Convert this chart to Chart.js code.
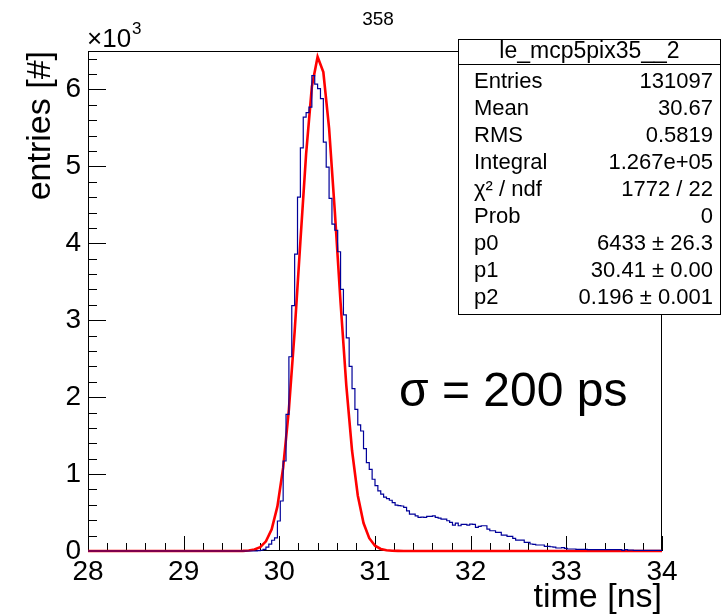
<!DOCTYPE html>
<html>
<head>
<meta charset="utf-8">
<title>358</title>
<script src="https://cdn.jsdelivr.net/npm/chart.js@4.4.1/dist/chart.umd.min.js"></script>
<style>
  html, body { margin: 0; padding: 0; background: #fff; }
  canvas { display: block; }
</style>
</head>
<body>
<canvas id="histChart" width="723" height="616"></canvas>
<script>
// histogram le_mcp5pix35__2 : 200 bins from 28 to 34 ns
const binLow = 28;
const binWidth = 0.03;
const binCounts = [
  0, 0, 0, 0, 0, 0, 0, 0, 0, 0, 0, 0, 0, 0, 0, 0, 0, 0, 0, 0,
  0, 0, 0, 0, 0, 0, 0, 0, 0, 0, 0, 0, 0, 0, 0, 0, 0, 0, 0, 0,
  0, 0, 0, 0, 0, 0, 0, 0, 0, 0, 0, 0, 0, 0, 0, 0, 0, 0, 0, 5,
  10, 20, 50, 90, 140, 170, 390, 650, 1170, 1775,
  2525, 3190, 3860, 4600, 5240, 5640, 5700, 5770, 6180, 6070,
  6010, 5880, 5315, 4990, 4585, 4250, 4170, 3890, 3400, 3070,
  2770, 2400, 2110, 1840, 1640, 1560, 1330, 1150, 1060, 933,
  850, 781, 740, 700, 680, 660, 630, 596, 590, 585,
  566, 522, 479, 479, 457, 436, 440, 436, 449, 449,
  457, 436, 427, 414, 414, 393, 371, 337, 363, 328,
  345, 345, 337, 350, 345, 307, 320, 328, 328, 285,
  263, 263, 242, 242, 207, 207, 190, 190, 164, 142,
  142, 142, 113, 113, 91, 85, 78, 78, 78, 61,
  61, 55, 50, 39, 39, 45, 35, 26, 26, 26,
  22, 22, 22, 20, 18, 17, 17, 17, 17, 17,
  17, 17, 17, 17, 17, 17, 8, 17, 12, 12,
  8, 8, 8, 8, 8, 8, 8, 8, 8, 8
];

// gaussian fit curve as drawn (p0 = 6433, p1 = 30.41, p2 = 0.196)
const fitX = [28, 29.50, 29.56, 29.62, 29.68, 29.74, 29.80, 29.86, 29.92, 29.98,
  30.04, 30.10, 30.16, 30.22, 30.28, 30.34, 30.40, 30.46, 30.52, 30.58,
  30.64, 30.70, 30.76, 30.82, 30.88, 30.94, 31.00, 31.06, 31.12, 31.18,
  31.24, 31.30, 34];
const fitY = [0, 0, 0.5, 2, 6, 19, 51, 126, 283, 580,
  1083, 1842, 2852, 4021, 5163, 6035, 6425, 6227, 5496, 4416,
  3231, 2153, 1306, 721, 363, 166, 69, 26, 9, 3,
  1, 0, 0];

const xTickLabels = [28, 29, 30, 31, 32, 33, 34];
const yTickLabels = [0, 1, 2, 3, 4, 5, 6];

const statsTitle = "le_mcp5pix35__2";
const statsLabels = ["Entries", "Mean", "RMS", "Integral", "\u03c7\u00b2 / ndf", "Prob", "p0", "p1", "p2"];
const statsValues = ["131097", "30.67", "0.5819", "1.267e+05", "1772 / 22", "0",
  "6433 \u00b1 26.3", "30.41 \u00b1 0.00", "0.196 \u00b1 0.001"];

const FONT = "'Liberation Sans', Arial, Helvetica, sans-serif";

// ROOT style frame: box + ticks pointing inward
const frameTicks = {
  id: "frameTicks",
  beforeDatasetsDraw(chart) {
    const { ctx, chartArea: a, scales: { x, y } } = chart;
    ctx.save();
    ctx.strokeStyle = "#000";
    ctx.lineWidth = 1;
    ctx.strokeRect(a.left + 0.5, a.top + 0.5, a.right - a.left - 1, a.bottom - a.top - 1);
    ctx.beginPath();
    for (let k = 0; k <= 30; k++) {
      const v = 28 + k * 0.2;
      const px = Math.round(x.getPixelForValue(v)) + 0.5;
      const len = k % 5 === 0 ? 15 : 8;
      ctx.moveTo(px, a.bottom);
      ctx.lineTo(px, a.bottom - len);
    }
    for (let k = 0; k <= 32; k++) {
      const v = k * 200;
      const py = Math.round(y.getPixelForValue(v)) + 0.5;
      const len = k % 5 === 0 ? 18 : 9;
      ctx.moveTo(a.left, py);
      ctx.lineTo(a.left + len, py);
    }
    ctx.stroke();
    ctx.restore();
  },
  afterDraw(chart) {
    const { ctx } = chart;
    ctx.save();
    ctx.fillStyle = "#000";

    // pad title
    ctx.font = "19px " + FONT;
    ctx.textAlign = "center";
    ctx.textBaseline = "middle";
    ctx.fillText("358", 378, 20);

    // exponent of y axis
    ctx.textAlign = "left";
    ctx.textBaseline = "alphabetic";
    ctx.font = "26px " + FONT;
    ctx.fillText("\u00d710", 87, 47);
    const w = ctx.measureText("\u00d710").width;
    ctx.font = "17px " + FONT;
    ctx.fillText("3", 87 + w + 1, 34);

    // stats box
    const bx = 458.5, by = 39.5, bw = 262, bh = 275;
    ctx.fillStyle = "#fff";
    ctx.fillRect(bx, by, bw, bh);
    ctx.strokeStyle = "#000";
    ctx.lineWidth = 1;
    ctx.strokeRect(bx, by, bw, bh);
    ctx.beginPath();
    ctx.moveTo(bx, 64.5);
    ctx.lineTo(bx + bw, 64.5);
    ctx.stroke();

    ctx.fillStyle = "#000";
    ctx.font = "23px " + FONT;
    ctx.textAlign = "center";
    ctx.textBaseline = "middle";
    ctx.fillText(statsTitle, bx + bw / 2, 52);
    ctx.font = "22px " + FONT;
    statsLabels.forEach((lab, i) => {
      const ty = 82 + i * 27;
      ctx.textAlign = "left";
      ctx.fillText(lab, 474, ty);
      ctx.textAlign = "right";
      ctx.fillText(statsValues[i], 713, ty);
    });

    // annotation
    ctx.font = "48px " + FONT;
    ctx.textAlign = "left";
    ctx.textBaseline = "middle";
    ctx.fillText("\u03c3 = 200 ps", 399, 393);
    ctx.restore();
  }
};

const histData = binCounts.map((c, i) => ({ x: binLow + i * binWidth, y: c }));
histData.push({ x: binLow + binCounts.length * binWidth, y: binCounts[binCounts.length - 1] });
const fitData = fitX.map((v, i) => ({ x: v, y: fitY[i] }));

const ctx = document.getElementById("histChart").getContext("2d");
const chart = new Chart(ctx, {
  type: "line",
  data: {
    datasets: [
      {
        label: "le_mcp5pix35__2",
        data: histData,
        stepped: true,
        borderColor: "#000099",
        borderWidth: 1.2,
        pointRadius: 0,
        fill: false,
        clip: false,
      },
      {
        label: "fit",
        data: fitData,
        borderColor: "#ff0000",
        borderWidth: 2.6,
        pointRadius: 0,
        tension: 0,
        fill: false,
        clip: false,
      },
    ],
  },
  options: {
    responsive: false,
    animation: false,
    devicePixelRatio: 1,
    layout: { padding: { top: 51, right: 61, bottom: 0, left: 0 } },
    plugins: { legend: { display: false }, tooltip: { enabled: false } },
    scales: {
      x: {
        type: "linear",
        min: 28,
        max: 34,
        afterBuildTicks: (s) => { s.ticks = xTickLabels.map((v) => ({ value: v })); },
        afterFit: (s) => { s.height = 65; },
        ticks: {
          color: "#000",
          font: { family: FONT, size: 28 },
          padding: 4,
          maxRotation: 0,
          autoSkip: false,
        },
        grid: { display: false, drawTicks: false },
        border: { display: false },
        title: {
          display: true,
          text: "time [ns]",
          align: "end",
          color: "#000",
          font: { family: FONT, size: 34, lineHeight: 1.1 },
          padding: { top: 0, bottom: 0 },
        },
      },
      y: {
        type: "linear",
        min: 0,
        max: 6500,
        afterBuildTicks: (s) => { s.ticks = yTickLabels.map((v) => ({ value: v * 1000 })); },
        afterFit: (s) => { s.width = 88; },
        ticks: {
          color: "#000",
          font: { family: FONT, size: 28 },
          padding: 7,
          callback: (v) => v / 1000,
        },
        grid: { display: false, drawTicks: false },
        border: { display: false },
        title: {
          display: true,
          text: "entries [#]",
          align: "end",
          color: "#000",
          font: { family: FONT, size: 34, lineHeight: 1.1 },
          padding: { top: 22, bottom: 0 },
        },
      },
    },
  },
  plugins: [frameTicks],
});
</script>
</body>
</html>
